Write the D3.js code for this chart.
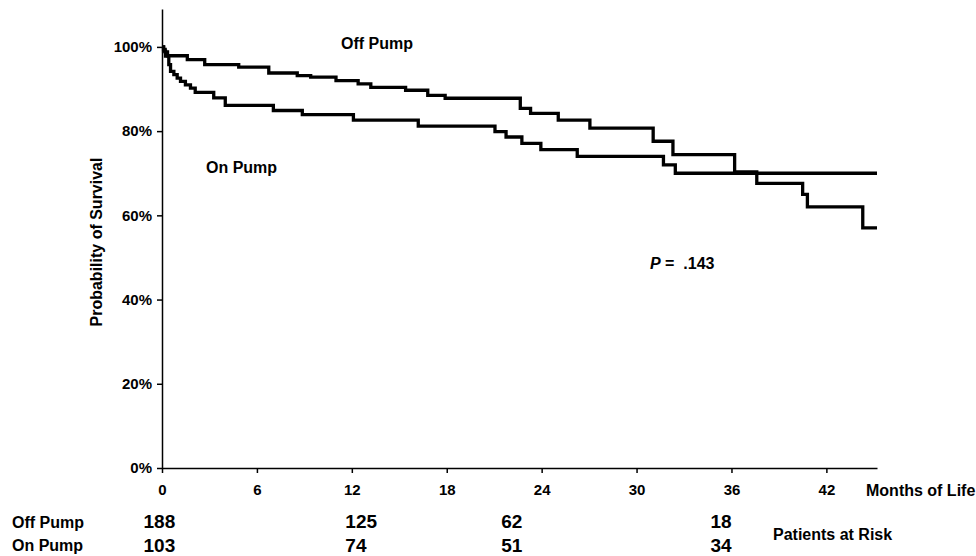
<!DOCTYPE html>
<html>
<head>
<meta charset="utf-8">
<script src="https://cdn.jsdelivr.net/npm/d3@7"></script>
<style>
  html, body { margin: 0; padding: 0; background: #fff; }
  svg { display: block; font-family: "Liberation Sans", Arial, Helvetica, sans-serif; font-weight: bold; }
</style>
</head>
<body>
<svg id="chart" width="976" height="556"></svg>
<script>
// ---- Data ----
const offPumpMonths   = [0, 0.1, 0.2, 0.35, 1.6, 2.7, 4.85, 6.75, 8.55, 9.4, 11.0, 12.4, 13.2, 15.4, 16.8, 17.9, 22.65, 23.3, 25.05, 27.05, 31.05, 32.3, 36.2, 37.6, 40.5, 40.8, 44.3, 45.2];
const offPumpSurvival = [100, 99.4, 98.8, 97.9, 97.0, 95.8, 95.2, 93.8, 93.2, 92.8, 92.0, 91.2, 90.4, 89.7, 88.5, 87.8, 85.4, 84.2, 82.6, 80.7, 77.6, 74.4, 70.3, 67.6, 65.0, 62.0, 57.0, 57.0];

const onPumpMonths    = [0, 0.1, 0.22, 0.43, 0.54, 0.75, 0.96, 1.17, 1.48, 1.8, 2.1, 3.27, 4.0, 7.04, 8.87, 12.1, 16.2, 21.05, 21.75, 22.75, 23.95, 26.25, 31.7, 32.45, 45.2];
const onPumpSurvival  = [100, 99.0, 97.8, 95.8, 94.2, 93.4, 92.6, 91.8, 91.0, 90.2, 89.2, 87.9, 86.1, 84.9, 83.9, 82.6, 81.2, 79.9, 78.6, 77.1, 75.6, 74.0, 72.0, 70.0, 70.0];

const xTicks = [0, 6, 12, 18, 24, 30, 36, 42];
const yTicks = [0, 20, 40, 60, 80, 100];

const riskGroups   = ["Off Pump", "On Pump"];
const riskOffPump  = [188, 125, 62, 18];
const riskOnPump   = [103, 74, 51, 34];

// ---- Scales ----
const svg = d3.select("#chart");
const x = d3.scaleLinear().domain([0, 45.2]).range([162, 877]);
const y = d3.scaleLinear().domain([0, 109]).range([468, 9]);

// ---- Axes ----
const yAxis = d3.axisLeft(y).tickValues(yTicks).tickFormat(d => d + "%")
  .tickSize(5).tickSizeOuter(0).tickPadding(5);
const gy = svg.append("g").attr("transform", "translate(162,0)").call(yAxis);

const xAxis = d3.axisBottom(x).tickValues(xTicks).tickFormat(d => d)
  .tickSize(5).tickSizeOuter(0).tickPadding(11.5);
const gx = svg.append("g").attr("transform", "translate(0,468)").call(xAxis);

[gx, gy].forEach(g => {
  g.select(".domain").attr("stroke", "#000").attr("stroke-width", 1.5);
  g.selectAll(".tick line").attr("stroke", "#000").attr("stroke-width", 1.5);
  g.selectAll(".tick text").attr("fill", "#000")
    .style("font-size", "15px").style("font-weight", "bold")
    .style("font-family", "'Liberation Sans', Arial, sans-serif");
});

// ---- Curves ----
const line = d3.line()
  .x(d => x(d[0]))
  .y(d => y(d[1]))
  .curve(d3.curveStepAfter);

const offData = offPumpMonths.map((m, i) => [m, offPumpSurvival[i]]);
const onData  = onPumpMonths.map((m, i) => [m, onPumpSurvival[i]]);

svg.append("path").datum(onData).attr("d", line)
  .attr("fill", "none").attr("stroke", "#000").attr("stroke-width", 3.3)
  .attr("stroke-linejoin", "miter");
svg.append("path").datum(offData).attr("d", line)
  .attr("fill", "none").attr("stroke", "#000").attr("stroke-width", 3.3)
  .attr("stroke-linejoin", "miter");

// ---- Labels ----
const txt = (s, px, py, size, anchor) => svg.append("text")
  .attr("x", px).attr("y", py).attr("text-anchor", anchor || "start")
  .style("font-size", size + "px").attr("fill", "#000").text(s);

txt("Off Pump", 341, 49, 16);
txt("On Pump", 206, 173, 16);

const pt = svg.append("text").attr("x", 650).attr("y", 269)
  .style("font-size", "16px").attr("fill", "#000");
pt.append("tspan").style("font-style", "italic").text("P");
pt.append("tspan").attr("xml:space", "preserve").text(" =  .143");

txt("Months of Life", 866, 496, 16);

svg.append("text")
  .attr("transform", "translate(101.5,242) rotate(-90)")
  .attr("text-anchor", "middle")
  .style("font-size", "16px").attr("fill", "#000")
  .text("Probability of Survival");

// ---- Patients at risk table ----
const riskTimes = [0, 12, 24, 36];
const riskOffsets = [-18.5, -6.5, -40.5, -21];
txt(riskGroups[0], 12, 528, 16);
txt(riskGroups[1], 12, 551, 16);
riskTimes.forEach((t, i) => {
  txt(String(riskOffPump[i]), x(t) + riskOffsets[i], 527.5, 19);
  txt(String(riskOnPump[i]),  x(t) + riskOffsets[i], 551.5, 19);
});
txt("Patients at Risk", 773, 540, 16);
</script>
</body>
</html>
